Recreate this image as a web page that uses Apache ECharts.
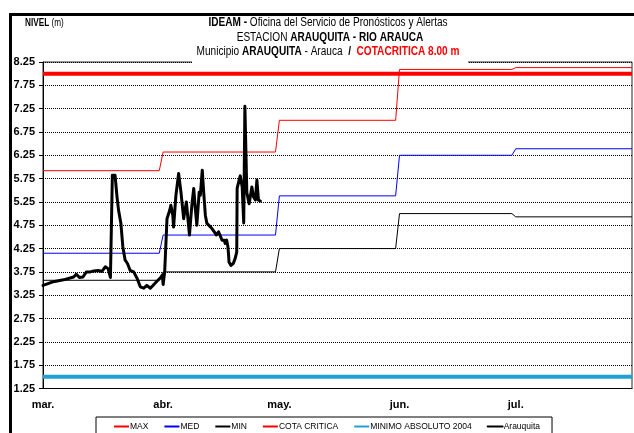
<!DOCTYPE html>
<html>
<head>
<meta charset="utf-8">
<script src="https://cdn.jsdelivr.net/npm/echarts@6/dist/echarts.min.js"></script>
<style>html,body{margin:0;padding:0;background:#fff}#c{width:634px;height:433px}</style>
</head>
<body>
<div id="c"></div>
<script>
// ---- Data ----
const monthLabels = ['mar.', 'abr.', 'may.', 'jun.', 'jul.'];
const monthStart = [0, 31, 61, 92, 122];   // day index of each month start (day 0 = 1 mar)
const lastDay = 152;                        // 31 jul
const yTicks = [1.25, 1.75, 2.25, 2.75, 3.25, 3.75, 4.25, 4.75, 5.25, 5.75, 6.25, 6.75, 7.25, 7.75, 8.25];

const maxMonthly = [5.92, 6.32, 7.00, 8.09, 8.13];
const medMonthly = [4.15, 4.54, 5.38, 6.25, 6.39];
const minMonthly = [3.57, 3.75, 4.25, 5.00, 4.93];
const cotaCritica = 8.00;
const minimoAbsoluto2004 = 1.50;

const arauquitaDay = [0, 1.3, 2.7, 5.3, 7.9, 8.6, 9.4, 10.3, 11.2, 12.2, 13.1, 14.3, 15.2, 16.1, 16.8, 17.4,
  17.9, 18.6, 19.1, 19.5, 20.1, 20.6, 21.2, 21.8, 22.5, 23.4, 24.3, 25.1, 26.0, 26.8, 27.7, 28.5, 29.4,
  30.3, 30.8, 31.0, 31.4, 32.0, 32.7, 33.0, 33.5, 33.7, 34.3, 35.0, 35.6, 36.3, 37.0, 37.4, 37.8, 38.2,
  38.5, 38.9, 39.3, 39.7, 40.3, 40.6, 41.1, 41.4, 41.9, 42.3, 42.7, 43.6, 44.2, 44.7, 45.3, 45.8, 46.2,
  46.8, 47.0, 47.4, 47.7, 47.9, 48.0, 48.5, 49.1, 49.6, 50.0, 50.1, 50.5, 50.9, 51.4, 51.8, 52.1, 52.4,
  52.6, 53.2, 53.9, 54.3, 54.8, 55.2, 55.6, 56.1];
const arauquitaLevel = [3.46, 3.50, 3.54, 3.58, 3.64, 3.70, 3.63, 3.64, 3.75, 3.75, 3.77, 3.78, 3.76, 3.86, 3.82, 3.63,
  5.82, 5.82, 5.36, 5.07, 4.79, 4.29, 4.00, 3.93, 3.78, 3.75, 3.61, 3.43, 3.40, 3.46, 3.40, 3.47, 3.55,
  3.62, 3.68, 3.48, 3.75, 4.89, 5.07, 5.18, 4.96, 4.71, 5.39, 5.86, 5.46, 4.89, 5.25, 4.89, 4.54, 4.96,
  5.25, 5.54, 5.11, 4.75, 5.46, 5.39, 5.93, 5.54, 4.96, 4.79, 4.75, 4.68, 4.61, 4.54, 4.61, 4.58, 4.43,
  4.43, 4.36, 4.43, 4.30, 4.11, 3.96, 3.89, 3.93, 4.04, 4.18, 5.54, 5.68, 5.81, 5.57, 4.80, 7.30, 6.20,
  5.45, 5.21, 5.57, 5.36, 5.29, 5.72, 5.29, 5.27];

// ---- Build series data from the arrays ----
function monthlySteps(vals) {
  const out = [];
  vals.forEach((v, i) => {
    const end = i < monthStart.length - 1 ? monthStart[i + 1] - 1 : lastDay;
    out.push([monthStart[i], v], [end, v]);
  });
  return out;
}
const flat = v => [[0, v], [lastDay, v]];
const arauquita = arauquitaDay.map((d, i) => [d, arauquitaLevel[i]]);

const SANS = '"Liberation Sans",Arial,sans-serif';
const richTitle = {
  b: {fontFamily: SANS, fontSize: 12, fontWeight: 'bold', fill: '#000'},
  n: {fontFamily: SANS, fontSize: 12, fill: '#000'},
  r: {fontFamily: SANS, fontSize: 12, fontWeight: 'bold', fill: '#ff0000'}
};
function titleLine(text, x, y, sx, align) {
  return {
    type: 'text', x: x, y: y, scaleX: sx, z: 60, silent: true,
    style: {text: text, rich: richTitle, align: align || 'center', verticalAlign: 'middle', fontFamily: SANS, fontSize: 12}
  };
}

const chart = echarts.init(document.getElementById('c'), null, {renderer: 'canvas'});
chart.setOption({
  animation: false,
  backgroundColor: '#fff',
  legend: {
    left: 96, top: 417,
    padding: [5, 12, 10, 17],
    borderColor: '#000', borderWidth: 1,
    itemWidth: 15, itemHeight: 8, itemGap: 15,
    itemStyle: {opacity: 0},
    textStyle: {fontFamily: SANS, fontSize: 8.5, color: '#000', padding: [0, 0, 0, -4]},
    data: ['MAX', 'MED', 'MIN', 'COTA CRITICA', 'MINIMO ABSOLUTO 2004', 'Arauquita']
  },
  grid: {left: 43, top: 62, right: 2, bottom: 44.5, show: true, borderColor: '#222', borderWidth: 1},
  xAxis: {
    type: 'value', min: 0, max: lastDay,
    axisLine: {show: true, lineStyle: {color: '#000', width: 1}},
    axisTick: {show: false},
    splitLine: {show: false},
    axisLabel: {
      customValues: monthStart,
      formatter: v => monthLabels[monthStart.indexOf(Math.round(v))] || '',
      fontFamily: SANS, fontSize: 11, fontWeight: 'bold', color: '#000', margin: 11
    }
  },
  yAxis: {
    type: 'value', min: 1.25, max: 8.25, interval: 0.5,
    axisLine: {show: true, lineStyle: {color: '#000', width: 1}},
    axisTick: {show: true, length: 4, lineStyle: {color: '#000'}},
    axisLabel: {
      customValues: yTicks,
      formatter: v => Number(v).toFixed(2),
      fontFamily: SANS, fontSize: 11, fontWeight: 'bold', color: '#000', margin: 8
    },
    splitLine: {show: true, lineStyle: {color: '#000', width: 1, type: [1, 1]}}
  },
  series: [
    {name: 'MAX', type: 'line', symbol: 'none', data: monthlySteps(maxMonthly), lineStyle: {color: '#ff0000', width: 1}, itemStyle: {color: '#ff0000'}, z: 3},
    {name: 'MED', type: 'line', symbol: 'none', data: monthlySteps(medMonthly), lineStyle: {color: '#0000ff', width: 1}, itemStyle: {color: '#0000ff'}, z: 3},
    {name: 'MIN', type: 'line', symbol: 'none', data: monthlySteps(minMonthly), lineStyle: {color: '#000', width: 1}, itemStyle: {color: '#000'}, z: 3},
    {name: 'COTA CRITICA', type: 'line', symbol: 'none', data: flat(cotaCritica), lineStyle: {color: '#ff0000', width: 4}, itemStyle: {color: '#ff0000'}, z: 3},
    {name: 'MINIMO ABSOLUTO 2004', type: 'line', symbol: 'none', data: flat(minimoAbsoluto2004), lineStyle: {color: '#1fa0d6', width: 4}, itemStyle: {color: '#1fa0d6'}, z: 3},
    {name: 'Arauquita', type: 'line', symbol: 'none', data: arauquita, lineStyle: {color: '#000', width: 3, cap: 'round', join: 'round'}, itemStyle: {color: '#000'}, z: 4}
  ],
  graphic: [
    {type: 'rect', shape: {x: 10.5, y: 14.5, width: 700, height: 500}, style: {fill: 'none', stroke: '#000', lineWidth: 3}, z: 100, silent: true},
    {type: 'rect', shape: {x: 192, y: 58, width: 276, height: 6}, style: {fill: '#fff'}, z: 50, silent: true},
    titleLine('{b|IDEAM -} {n|Oficina del Servicio de Pronósticos y Alertas}', 328, 23, 0.84),
    titleLine('{n|ESTACION }{b|ARAUQUITA - RIO ARAUCA}', 330, 38, 0.84),
    titleLine('{n|Municipio }{b|ARAUQUITA}{n| - Arauca }{b| /  }{r|COTACRITICA 8.00 m}', 328, 52, 0.84),
    {
      type: 'text', x: 25, y: 23, scaleX: 0.82, z: 60, silent: true,
      style: {
        text: '{b|NIVEL} {n|(m)}', align: 'left', verticalAlign: 'middle', fontFamily: SANS, fontSize: 10,
        rich: {b: {fontFamily: SANS, fontSize: 10, fontWeight: 'bold', fill: '#000'}, n: {fontFamily: SANS, fontSize: 10, fill: '#000'}}
      }
    }
  ]
});
</script>
</body>
</html>
